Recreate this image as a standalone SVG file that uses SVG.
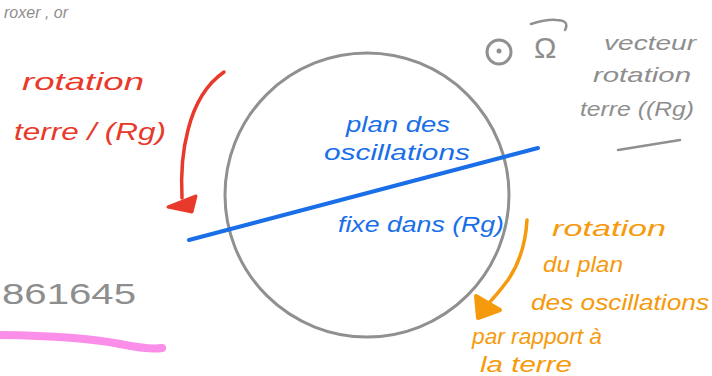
<svg xmlns="http://www.w3.org/2000/svg" width="712" height="376" viewBox="0 0 712 376">
<style>
text{font-family:"Liberation Sans","DejaVu Sans",sans-serif;font-style:italic}
.r{fill:#e8392a;font-size:24px}
.b{fill:#1a6fe8;font-size:22px}
.o{fill:#f59a0c;font-size:22px}
.g{fill:#8e8e8e;font-size:21px}
.ln{fill:none;stroke-linecap:round;stroke-linejoin:round}
</style>
<rect width="712" height="376" fill="#ffffff"/>
<g id="sphere"><circle cx="367" cy="195" r="142" fill="none" stroke="#909090" stroke-width="3"/></g>
<g id="top-note"><text class="g" x="4" y="18" style="font-size:16px">roxer , or</text></g>
<g id="omega"><circle cx="499" cy="52" r="12" fill="none" stroke="#909090" stroke-width="3"/><circle cx="499" cy="51" r="2.5" fill="#909090"/>
<text class="g" x="534" y="58" style="font-size:30px;font-style:normal">Ω</text>
<path class="ln" d="M531 24 Q548 19 556 20 Q570 20 565 30" stroke="#909090" stroke-width="2.5"/></g>
<g id="vecteur-label"><text class="g" x="604" y="50" textLength="92" lengthAdjust="spacingAndGlyphs">vecteur</text>
<text class="g" x="593" y="82" textLength="98" lengthAdjust="spacingAndGlyphs">rotation</text>
<text class="g" x="580" y="116" textLength="114" lengthAdjust="spacingAndGlyphs">terre ((Rg)</text>
<path class="ln" d="M618 150 L680 140" stroke="#909090" stroke-width="2.5"/></g>
<g id="red-label"><text class="r" x="22" y="90" textLength="122" lengthAdjust="spacingAndGlyphs">rotation</text>
<text class="r" x="14" y="140" textLength="152" lengthAdjust="spacingAndGlyphs">terre / (Rg)</text></g>
<g id="plan-label"><text class="b" x="346" y="132" textLength="104" lengthAdjust="spacingAndGlyphs">plan des</text>
<text class="b" x="324" y="160" textLength="146" lengthAdjust="spacingAndGlyphs">oscillations</text></g>
<g id="fixe-label"><text class="b" x="338" y="232" textLength="166" lengthAdjust="spacingAndGlyphs">fixe dans (Rg)</text></g>
<g id="orange-label"><text class="o" x="552" y="236" textLength="114" lengthAdjust="spacingAndGlyphs">rotation</text>
<text class="o" x="543" y="272" textLength="80" lengthAdjust="spacingAndGlyphs">du plan</text>
<text class="o" x="531" y="310" textLength="178" lengthAdjust="spacingAndGlyphs">des oscillations</text>
<text class="o" x="472" y="344" textLength="130" lengthAdjust="spacingAndGlyphs">par rapport à</text>
<text class="o" x="480" y="372" textLength="92" lengthAdjust="spacingAndGlyphs">la terre</text></g>
<g id="number"><text class="g" x="2" y="304" style="font-size:30px;font-style:normal" textLength="134" lengthAdjust="spacingAndGlyphs">861645</text></g>
<g id="connectors">
<path class="ln" d="M189 240 L538 148" stroke="#1a6fe8" stroke-width="4"/>
<path class="ln" d="M224 72 Q198 90 188 130 Q180 160 182 198" stroke="#e8392a" stroke-width="3.5"/>
<path d="M168 207 L196 196 L192 212 Z" fill="#e8392a" stroke="#e8392a" stroke-width="3" stroke-linejoin="round"/>
<path class="ln" d="M527 220 Q525 255 508 280 Q496 296 486 306" stroke="#f59a0c" stroke-width="3.5"/>
<path d="M476 296 L478 318 L500 310 Z" fill="#f59a0c" stroke="#f59a0c" stroke-width="4" stroke-linejoin="round"/>
<path class="ln" d="M0 335 Q80 336 120 344 Q150 350 162 348" stroke="#fb8ee8" stroke-width="8"/>
</g>
</svg>
